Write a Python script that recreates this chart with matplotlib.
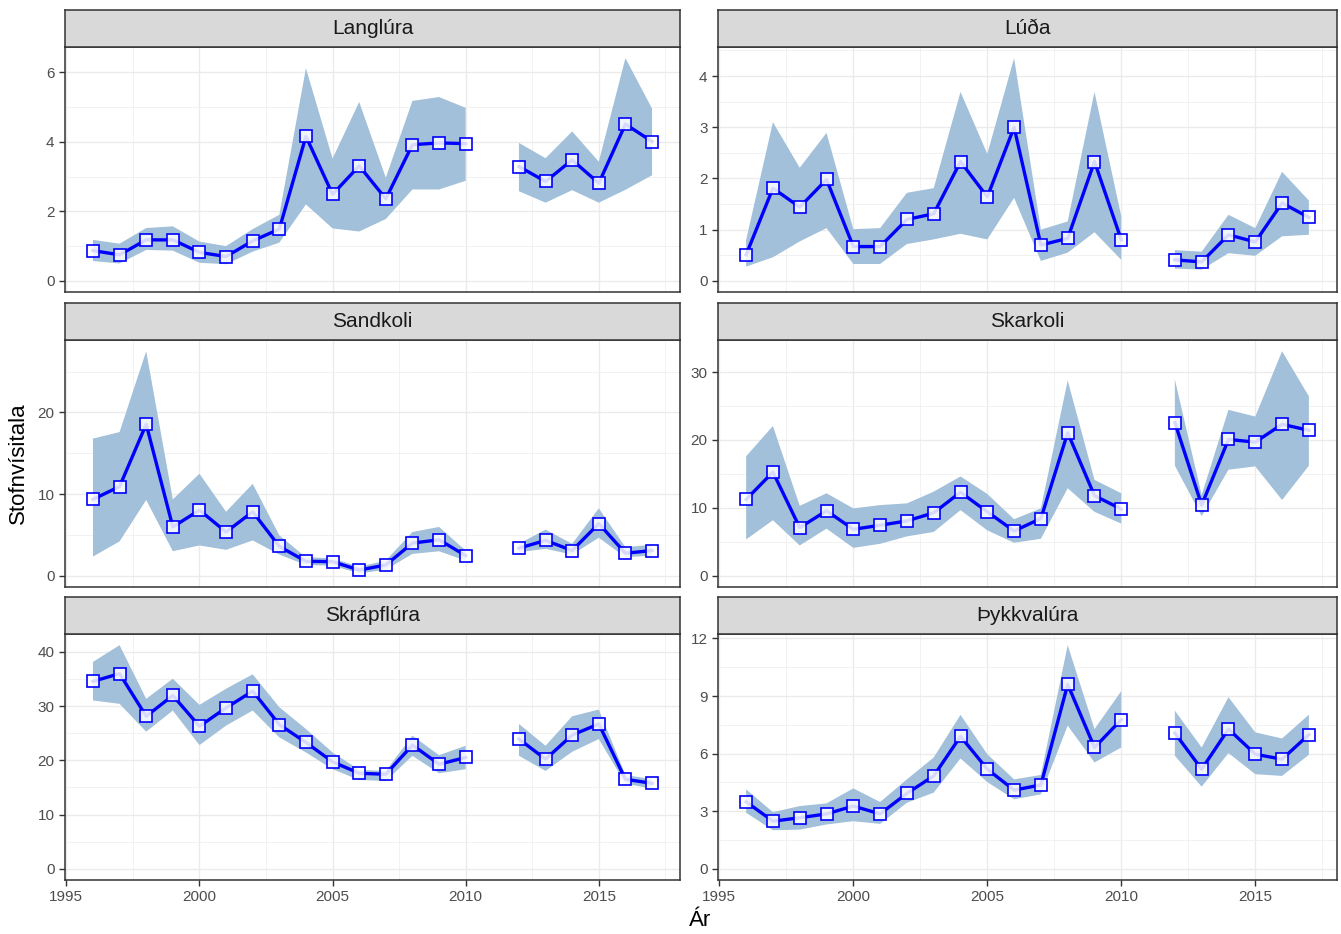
import numpy as np
import pandas as pd
import matplotlib
matplotlib.use("Agg")
import matplotlib.pyplot as plt
from matplotlib.ticker import MultipleLocator

plt.rcParams['font.family'] = ['Liberation Sans', 'DejaVu Sans']

# survey years (no survey in 2011)
years = [1996, 1997, 1998, 1999, 2000, 2001, 2002, 2003, 2004, 2005, 2006,
         2007, 2008, 2009, 2010, 2012, 2013, 2014, 2015, 2016, 2017]

species = ["Langlúra", "Lúða", "Sandkoli", "Skarkoli", "Skrápflúra", "Þykkvalúra"]

# index, lower and upper bounds per species
langlura = [0.87, 0.75, 1.18, 1.18, 0.82, 0.70, 1.15, 1.49, 4.16, 2.49, 3.31,
            2.36, 3.92, 3.97, 3.95, 3.29, 2.86, 3.48, 2.81, 4.51, 4.01]
langlura_lo = [0.57, 0.50, 0.89, 0.87, 0.52, 0.48, 0.84, 1.10, 2.20, 1.51, 1.42,
               1.78, 2.63, 2.63, 2.88, 2.58, 2.25, 2.61, 2.25, 2.62, 3.04]
langlura_hi = [1.18, 1.07, 1.52, 1.57, 1.13, 1.00, 1.49, 1.90, 6.12, 3.52, 5.15,
               2.97, 5.18, 5.29, 4.98, 3.97, 3.53, 4.30, 3.43, 6.41, 4.96]

luda = [0.51, 1.81, 1.44, 1.98, 0.67, 0.67, 1.20, 1.31, 2.33, 1.64, 3.00,
        0.70, 0.83, 2.33, 0.80, 0.41, 0.37, 0.90, 0.76, 1.52, 1.24]
luda_lo = [0.28, 0.46, 0.77, 1.03, 0.33, 0.33, 0.72, 0.81, 0.92, 0.81, 1.62,
           0.39, 0.55, 0.95, 0.41, 0.24, 0.22, 0.54, 0.49, 0.87, 0.90]
luda_hi = [0.80, 3.10, 2.21, 2.89, 1.01, 1.03, 1.72, 1.81, 3.69, 2.48, 4.35,
           1.00, 1.16, 3.69, 1.26, 0.60, 0.57, 1.29, 1.03, 2.13, 1.57]

sandkoli = [9.36, 10.93, 18.56, 5.98, 8.04, 5.36, 7.84, 3.59, 1.77, 1.73, 0.70,
            1.32, 4.00, 4.41, 2.47, 3.38, 4.33, 3.09, 6.39, 2.76, 3.09]
sandkoli_lo = [2.35, 4.21, 9.28, 3.01, 3.71, 3.18, 4.33, 2.60, 1.32, 1.24, 0.29,
               0.74, 2.68, 3.00, 1.86, 2.89, 3.30, 2.60, 4.66, 2.27, 2.47]
sandkoli_hi = [16.8, 17.6, 27.5, 9.36, 12.5, 7.84, 11.26, 4.95, 2.27, 2.14, 1.11,
               1.86, 5.36, 5.98, 3.09, 3.92, 5.65, 3.92, 8.25, 3.50, 3.80]

skarkoli = [11.25, 15.27, 7.09, 9.57, 6.84, 7.44, 8.08, 9.27, 12.30, 9.42, 6.59,
            8.43, 21.07, 11.80, 9.82, 22.56, 10.41, 20.08, 19.68, 22.31, 21.42]
skarkoli_lo = [5.35, 8.18, 4.46, 6.94, 4.11, 4.71, 5.80, 6.45, 9.67, 6.69, 4.86,
               5.45, 12.89, 9.42, 7.68, 16.21, 8.78, 15.62, 16.11, 11.16, 16.21]
skarkoli_hi = [17.6, 22.06, 10.3, 12.15, 9.92, 10.41, 10.66, 12.39, 14.63, 12.05, 8.33,
               9.92, 28.76, 14.13, 12.15, 28.9, 11.9, 24.44, 23.45, 33.07, 26.43]

skrapflura = [34.55, 35.97, 28.12, 31.95, 26.27, 29.67, 32.76, 26.58, 23.30, 19.72, 17.61,
              17.43, 22.81, 19.28, 20.52, 23.92, 20.21, 24.66, 26.70, 16.50, 15.76]
skrapflura_lo = [31.03, 30.41, 25.28, 29.17, 22.80, 26.39, 29.17, 24.23, 21.45, 18.36, 16.38,
                 16.19, 20.83, 17.61, 18.36, 20.83, 18.05, 21.57, 23.92, 15.70, 14.77]
skrapflura_hi = [38.13, 41.22, 31.33, 35.04, 30.22, 33.19, 35.85, 29.79, 25.77, 21.45, 18.23,
                 18.05, 24.54, 20.95, 22.68, 26.70, 22.68, 28.12, 29.36, 17.30, 16.50]

thykkvalura = [3.49, 2.48, 2.66, 2.86, 3.27, 2.86, 3.93, 4.84, 6.90, 5.19, 4.10,
               4.37, 9.61, 6.32, 7.77, 7.07, 5.19, 7.28, 5.97, 5.71, 6.99]
thykkvalura_lo = [2.92, 2.01, 2.04, 2.31, 2.48, 2.34, 3.44, 3.97, 5.75, 4.52, 3.62,
                  3.88, 7.46, 5.54, 6.32, 5.89, 4.28, 6.03, 4.93, 4.84, 5.94]
thykkvalura_hi = [4.14, 2.95, 3.27, 3.41, 4.19, 3.48, 4.66, 5.80, 8.02, 5.97, 4.66,
                  4.89, 11.65, 7.28, 9.26, 8.24, 6.32, 8.94, 7.11, 6.79, 8.03]

series = {
    "Langlúra": (langlura, langlura_lo, langlura_hi, 2),
    "Lúða": (luda, luda_lo, luda_hi, 1),
    "Sandkoli": (sandkoli, sandkoli_lo, sandkoli_hi, 10),
    "Skarkoli": (skarkoli, skarkoli_lo, skarkoli_hi, 10),
    "Skrápflúra": (skrapflura, skrapflura_lo, skrapflura_hi, 10),
    "Þykkvalúra": (thykkvalura, thykkvalura_lo, thykkvalura_hi, 3),
}

fig = plt.figure(figsize=(13.41, 9.34), dpi=100)

# panel boxes in pixels: (left, right) and (strip top, panel top, panel bottom)
cols = [(65, 680), (718, 1337)]
rows = [(10, 47, 292), (303, 340, 587), (597, 634, 880)]
W, H = 1341, 934

border = '#333333'
all_years = np.arange(min(years), max(years) + 1)

for i, name in enumerate(species):
    r, c = divmod(i, 2)
    x0, x1 = cols[c]
    st, pt, pb = rows[r]
    ax = fig.add_axes([x0 / W, 1 - pb / H, (x1 - x0) / W, (pb - pt) / H])
    sax = fig.add_axes([x0 / W, 1 - pt / H, (x1 - x0) / W, (pt - st) / H])

    vals, lo, hi, step = series[name]
    df = pd.DataFrame({"v": vals, "lo": lo, "hi": hi}, index=years).reindex(all_years)

    ax.fill_between(df.index, df["lo"], df["hi"], color='#A2C0D9', lw=0, zorder=2)
    ax.plot(df.index, df["v"], color='#0000FF', lw=2.4, zorder=3)
    ax.plot(df.index, df["v"], ls='none', marker='s', ms=9, mfc=(1, 1, 1, 0.85),
            mec='#0000FF', mew=1.2, zorder=4)

    top = max(hi)
    ax.set_ylim(-0.05 * top, 1.05 * top)
    ax.set_xlim(1994.95, 2018.05)
    ax.xaxis.set_major_locator(MultipleLocator(5))
    ax.xaxis.set_minor_locator(MultipleLocator(2.5))
    ax.yaxis.set_major_locator(MultipleLocator(step))
    ax.yaxis.set_minor_locator(MultipleLocator(step / 2))
    ax.grid(which='major', color='#EBEBEB', lw=1.0, zorder=0)
    ax.grid(which='minor', color='#F0F0F0', lw=0.6, zorder=0)
    ax.set_axisbelow(True)
    ax.tick_params(which='minor', length=0)
    ax.tick_params(which='major', length=4, color=border, labelcolor='#4D4D4D',
                   labelsize=11, width=1)
    for sp in ax.spines.values():
        sp.set_color(border)
        sp.set_linewidth(1.1)
    if r < 2:
        ax.tick_params(axis='x', labelbottom=False, length=0)

    sax.set_facecolor('#D9D9D9')
    sax.set_xticks([])
    sax.set_yticks([])
    for sp in sax.spines.values():
        sp.set_color(border)
        sp.set_linewidth(1.1)
    sax.text(0.5, 0.5, name, ha='center', va='center', fontsize=15,
             color='#1A1A1A', transform=sax.transAxes)

fig.text(18 / W, 1 - 463 / H, "Stofnvísitala", rotation=90, ha='center',
         va='center', fontsize=16)
fig.text(700 / W, 1 - 921 / H, "Ár", ha='center', va='center', fontsize=16)

fig.savefig("out.png", dpi=100)
